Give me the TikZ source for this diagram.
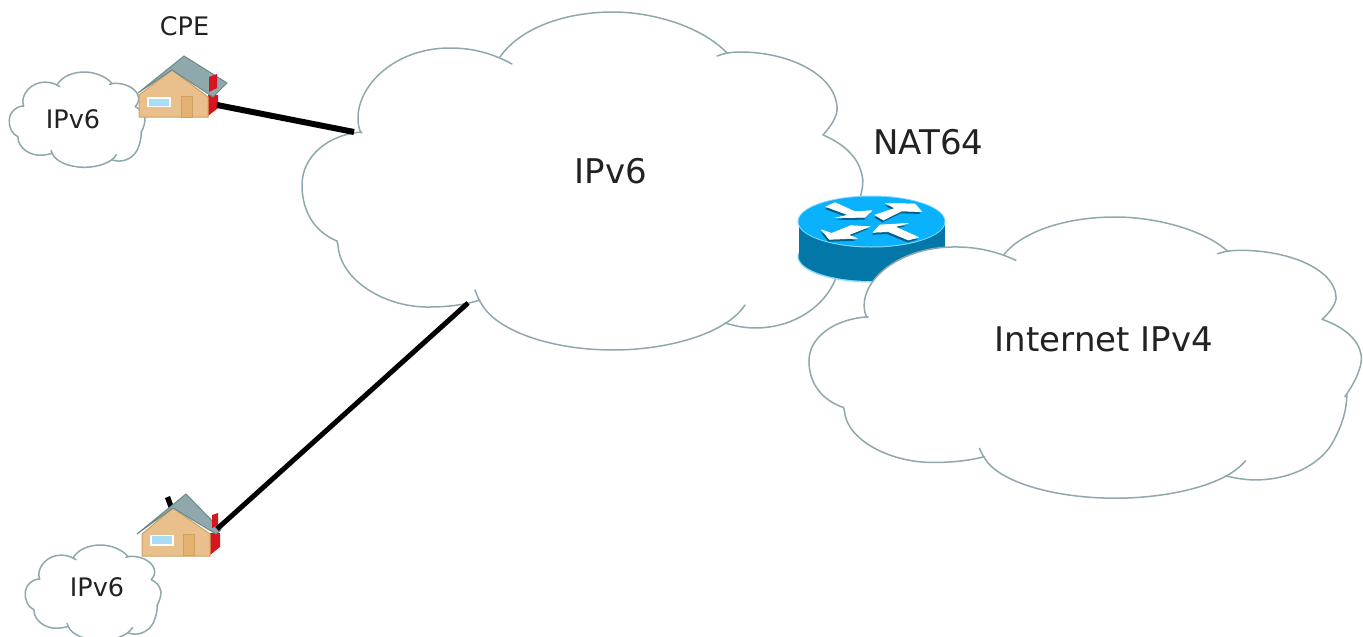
\documentclass[tikz,border=0pt]{standalone}
\usepackage{fontspec}
\setmainfont{DejaVu Sans}
\definecolor{cloudline}{HTML}{8FA8AC}
\definecolor{txt}{HTML}{222222}
\definecolor{wall}{HTML}{E9BF8C}
\definecolor{wallline}{HTML}{CFA063}
\definecolor{roof}{HTML}{8FA8AC}
\definecolor{roofline}{HTML}{6A8A8B}
\definecolor{doorc}{HTML}{E2B26E}
\definecolor{glass}{HTML}{A8DDF5}
\definecolor{redc}{HTML}{D8141E}
\definecolor{rtop}{HTML}{0AB1FC}
\definecolor{rside}{HTML}{0277A8}
\definecolor{rglow}{HTML}{8ADCFF}
\definecolor{rshade}{HTML}{035E88}
\tikzset{
  lobe/.style={draw=cloudline,line width=1.5pt,line cap=round},
  biglabel/.style={text=txt,font=\fontsize{34}{40}\selectfont,inner sep=0pt},
  smalllabel/.style={text=txt,font=\fontsize{25.5}{30}\selectfont,inner sep=0pt},
  link/.style={draw=black,line cap=butt},
  housewall/.style={fill=wall,draw=wallline,line width=1pt},
  houseroof/.style={fill=roof,draw=roofline,line width=1pt},
}
\newcommand{\cloudshape}{%
  \fill[white] (500,57) -- (360,133) -- (337,241) -- (478,300) -- (725,323) -- (848,226) -- (823,135) -- (722,55) -- cycle;
  \fill[white] (512,64) .. controls (490,52) and (470,48) .. (450,48) .. controls (395,48) and (358,85) .. (358,118) .. controls (358,124) and (359,129) .. (361,133);
  \fill[white] (362,132) .. controls (330,134) and (302,155) .. (302,185) .. controls (302,212) and (315,232) .. (337,241);
  \fill[white] (337,241) -- (338,245) .. controls (340,280) and (385,308) .. (430,307) .. controls (450,307) and (468,304) .. (480,300);
  \fill[white] (481,303) .. controls (495,330) and (550,350) .. (613,350) .. controls (665,350) and (725,335) .. (745,305);
  \fill[white] (725,323) .. controls (735,326) and (745,328) .. (755,328) .. controls (795,328) and (825,305) .. (835,280) .. controls (842,265) and (848,245) .. (848,226);
  \fill[white] (846,228) .. controls (860,205) and (865,185) .. (862,175) .. controls (858,155) and (840,142) .. (823,135);
  \fill[white] (823,135) .. controls (832,125) and (838,115) .. (837,107) .. controls (835,75) and (790,52) .. (740,52) .. controls (730,52) and (722,54) .. (717,56);
  \fill[white] (727,53) .. controls (700,25) and (650,12) .. (613,12) .. controls (565,12) and (520,28) .. (500,57);
  \draw[lobe] (512,64) .. controls (490,52) and (470,48) .. (450,48) .. controls (395,48) and (358,85) .. (358,118) .. controls (358,124) and (359,129) .. (361,133);
  \draw[lobe] (362,132) .. controls (330,134) and (302,155) .. (302,185) .. controls (302,212) and (315,232) .. (337,241);
  \draw[lobe] (337,241) -- (338,245) .. controls (340,280) and (385,308) .. (430,307) .. controls (450,307) and (468,304) .. (480,300);
  \draw[lobe] (475,290) .. controls (478,298) and (480,302) .. (481,303) .. controls (495,330) and (550,350) .. (613,350) .. controls (665,350) and (725,335) .. (745,305);
  \draw[lobe] (725,323) .. controls (735,326) and (745,328) .. (755,328) .. controls (795,328) and (825,305) .. (835,280) .. controls (842,265) and (848,245) .. (848,226);
  \draw[lobe] (846,228) .. controls (860,205) and (865,185) .. (862,175) .. controls (858,155) and (840,142) .. (823,135);
  \draw[lobe] (823,135) .. controls (832,125) and (838,115) .. (837,107) .. controls (835,75) and (790,52) .. (740,52) .. controls (730,52) and (722,54) .. (717,56);
  \draw[lobe] (727,53) .. controls (700,25) and (650,12) .. (613,12) .. controls (565,12) and (520,28) .. (500,57);
}
\newcommand{\rarrow}[1]{%
  \fill[rshade] [shift={(-3,7)}] #1;
  \filldraw[fill=white,draw=white,line width=.6pt] #1;
}
\begin{document}
\begin{tikzpicture}[x=1pt,y=-1pt]
\useasboundingbox (0,0) rectangle (1363,637);
% main IPv6 cloud
\cloudshape
% router
\fill[rglow] (871.5,257) ellipse [x radius=74,y radius=25.5];
\fill[rside] (871.5,256) ellipse [x radius=73,y radius=25];
\fill[rside] (798.5,222) rectangle (944.5,256);
\fill[rglow] (871.5,221.5) ellipse [x radius=74,y radius=26];
\fill[rtop] (871.5,221.5) ellipse [x radius=73,y radius=25];
\begin{scope}[shift={(780,180)},scale=1/3]
  \rarrow{(138,80) -- (165,68) -- (225,95) -- (275,92) -- (255,112) -- (170,113) -- (205,105) -- cycle}
  \rarrow{(285,105) -- (345,85) -- (318,70) -- (405,72) -- (425,95) -- (365,93) -- (310,120) -- cycle}
  \rarrow{(268,140) -- (212,137) -- (155,160) -- (125,150) -- (148,178) -- (230,175) -- (205,165) -- cycle}
  \rarrow{(280,157) -- (300,135) -- (385,130) -- (345,140) -- (415,172) -- (385,180) -- (325,155) -- cycle}
\end{scope}
% internet cloud
\begin{scope}[shift={(808,217)},xscale=.985,yscale=.832,shift={(-301,-12)}]
  \cloudshape
\end{scope}
% small clouds
\begin{scope}[shift={(9,72)},xscale=.242,yscale=.282,shift={(-301,-12)}]
  \cloudshape
\end{scope}
\begin{scope}[shift={(25,545)},xscale=.242,yscale=.282,shift={(-301,-12)}]
  \cloudshape
\end{scope}
% upper house
\fill[redc] (208,95) -- (218,95) -- (218,108) -- (208,116) -- cycle;
\filldraw[housewall] (139,95) -- (172,70) -- (208,97) -- (208,117) -- (139,117) -- cycle;
\fill[white] (147,97) rectangle (171,107);
\fill[glass] (149,98.5) rectangle (169,105.5);
\filldraw[fill=doorc,draw=wallline,line width=1pt] (181,96) rectangle (192,117);
\filldraw[houseroof] (138,93) -- (184,56) -- (227,83) -- (213,97) -- (172,70) -- cycle;
\fill[redc] (209,77) -- (217,74) -- (217,88) -- (209,92) -- cycle;
% lower house
\fill[black] (165,498) -- (170,496) -- (174,507) -- (169,509) -- cycle;
\fill[redc] (210,533) -- (220,533) -- (220,547) -- (210,555) -- cycle;
\filldraw[housewall] (142,534) -- (173,508) -- (210,534) -- (210,556) -- (142,556) -- cycle;
\fill[white] (150,534.5) rectangle (174,546);
\fill[glass] (152,536) rectangle (172,544);
\filldraw[fill=doorc,draw=wallline,line width=1pt] (183,534) rectangle (194,555.5);
\filldraw[houseroof] (137,534) -- (186,494) -- (221,530) -- (216,534) -- (173,508) -- cycle;
\fill[redc] (212,515) -- (218,513) -- (218,525) -- (212,528) -- cycle;
% connectors
\coordinate (cpeA) at (217,105);
\coordinate (bigA) at (354,132);
\coordinate (cpeB) at (217,529);
\coordinate (bigB) at (468,303);
\draw[link,line width=6pt] (cpeA) -- (bigA);
\draw[link,line width=5pt] (cpeB) -- (bigB);
% labels
\node[smalllabel] (cpe) at (184.5,26) {CPE};
\node[smalllabel] (ipa) at (73,119) {IPv6};
\node[smalllabel] (ipb) at (97,587) {IPv6};
\node[biglabel] (ipc) at (611,171) {IPv6};
\node[biglabel] (nat) at (928.5,142) {NAT64};
\node[biglabel] (ipv4) at (1104,339) {Internet IPv4};
\end{tikzpicture}
\end{document}
